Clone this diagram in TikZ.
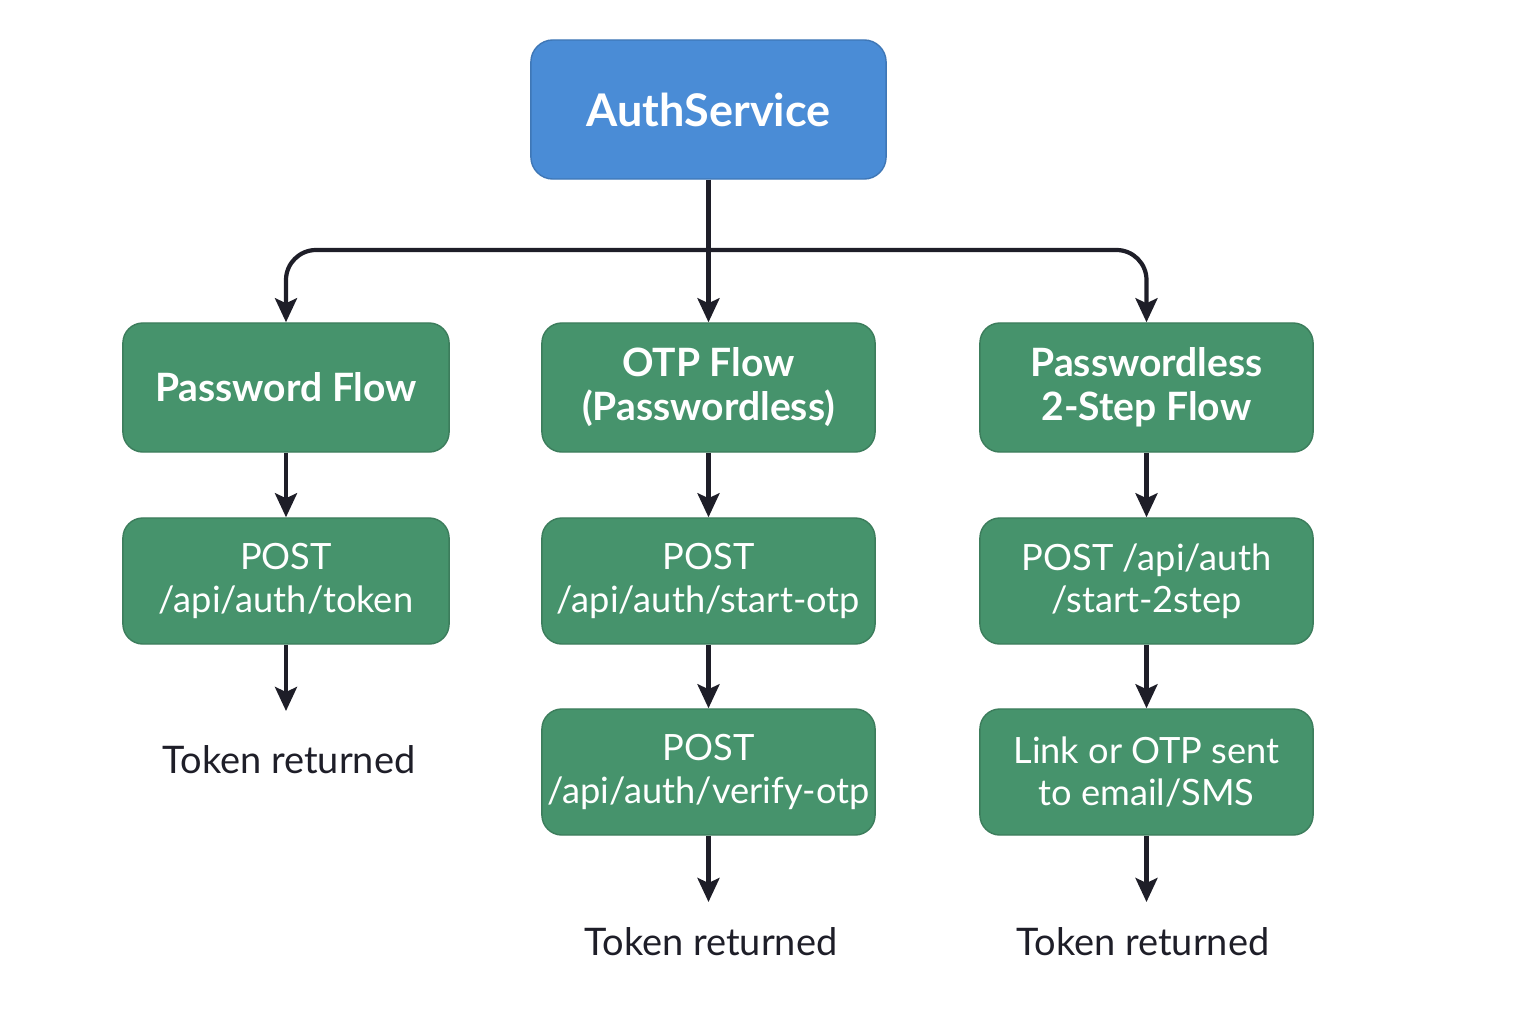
\documentclass[tikz,border=0pt]{standalone}
\usepackage{fontspec}
\setmainfont{Lato}
\usetikzlibrary{positioning,arrows.meta}

\definecolor{authblue}{HTML}{4A8CD6}
\definecolor{flowgreen}{HTML}{46936C}
\definecolor{linedark}{HTML}{1E1E28}

\tikzset{
  servicebox/.style={draw=authblue!85!black, fill=authblue, rounded corners=0.22cm,
    minimum width=3.55cm, minimum height=1.39cm, text=white, inner sep=0pt,
    font=\fontsize{12.8}{15}\selectfont\bfseries},
  flowbox/.style={draw=flowgreen!85!black, fill=flowgreen, rounded corners=0.2cm,
    minimum width=3.33cm, minimum height=1.29cm, text=white, align=center, inner sep=0pt,
    font=\fontsize{11.1}{12.5}\selectfont\bfseries},
  stepbox/.style={flowbox, minimum height=1.26cm,
    font=\fontsize{10.3}{12}\selectfont\mdseries},
  result/.style={text=linedark, font=\fontsize{10.8}{13}\selectfont},
  flowarrow/.style={draw=linedark, line width=1.2pt,
    -{Stealth[length=0.24cm,width=0.22cm,inset=0.05cm]}}
}

\begin{document}
\begin{tikzpicture}[x=0.01cm, y=-0.01cm]
  \useasboundingbox (0,0) rectangle (1536,1024);

  % top service
  \node[servicebox] (auth) at (708.5,109.5) {AuthService};

  % the three flows
  \node[flowbox, minimum width=3.26cm] (pw) at (286,387.5) {Password Flow};
  \node[flowbox] (otp) at (708.5,387.5) {OTP Flow\\(Passwordless)};
  \node[flowbox] (twostep) at (1146.5,387.5) {Passwordless\\2-Step Flow};

  % endpoints
  \node[stepbox, minimum width=3.26cm] (pwpost) at (286,581) {POST\\/api/auth/token};
  \node[stepbox] (otpstart) at (708.5,581) {POST\\/api/auth/start-otp};
  \node[stepbox] (twostart) at (1146.5,581) {POST /api/auth\\/start-2step};
  \node[stepbox] (otpverify) at (708.5,772) {POST\\/api/auth/verify-otp};
  \node[stepbox] (twolink) at (1146.5,772) {Link or OTP sent\\to email/SMS};

  % results
  \node[result] (pwtoken) at (289,760) {Token returned};
  \node[result] (otptoken) at (711,942) {Token returned};
  \node[result] (twotoken) at (1143,942) {Token returned};

  \coordinate (bus) at (708.5,250);
  \coordinate (pwend) at (286,711);
  \coordinate (otpend) at (708.5,902);
  \coordinate (twoend) at (1146.5,902);

  % connectors
  \draw[flowarrow] (auth) -- (otp);
  \draw[flowarrow, rounded corners=0.3cm] (bus) -| (pw.north);
  \draw[flowarrow, rounded corners=0.3cm] (bus) -| (twostep.north);

  \draw[flowarrow] (pw) -- (pwpost);
  \draw[flowarrow] (pwpost) -- (pwend);

  \draw[flowarrow] (otp) -- (otpstart);
  \draw[flowarrow] (otpstart) -- (otpverify);
  \draw[flowarrow] (otpverify) -- (otpend);

  \draw[flowarrow] (twostep) -- (twostart);
  \draw[flowarrow] (twostart) -- (twolink);
  \draw[flowarrow] (twolink) -- (twoend);
\end{tikzpicture}
\end{document}
